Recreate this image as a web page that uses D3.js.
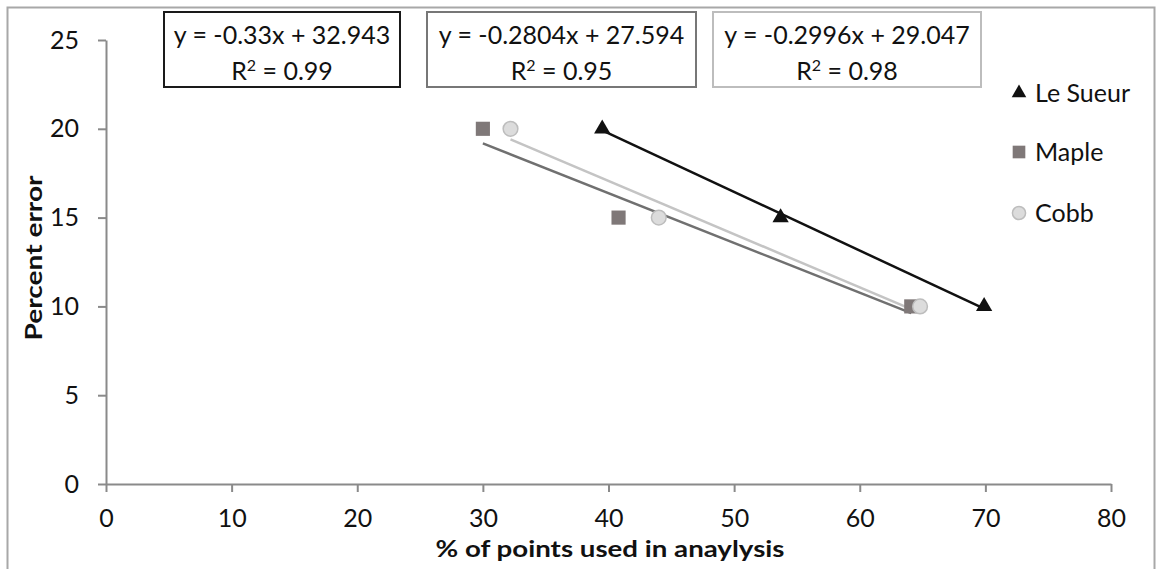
<!DOCTYPE html>
<html>
<head>
<meta charset="utf-8">
<script src="https://cdn.jsdelivr.net/npm/d3@7"></script>
<style>
  body { margin: 0; background: #fff; }
  text { font-family: Lato, "Open Sans", sans-serif; fill: #111; }
</style>
</head>
<body>
<div id="chart"></div>
<script>
// Series data
const leSueurX = [39.5, 53.7, 69.9];
const leSueurY = [20, 15, 10];
const mapleX = [30, 40.8, 64.1];
const mapleY = [20, 15, 10];
const cobbX = [32.2, 44, 64.8];
const cobbY = [20, 15, 10];

// Trendline coefficients and labels
const slopes = [-0.33, -0.2804, -0.2996];
const intercepts = [32.943, 27.594, 29.047];
const eqLabels = ["y = -0.33x + 32.943", "y = -0.2804x + 27.594", "y = -0.2996x + 29.047"];
const r2Labels = ["0.99", "0.95", "0.98"];
const seriesNames = ["Le Sueur", "Maple", "Cobb"];

const xTicks = [0, 10, 20, 30, 40, 50, 60, 70, 80];
const yTicks = [0, 5, 10, 15, 20, 25];

const width = 1156, height = 569;

const svg = d3.select("#chart").append("svg")
    .attr("width", width)
    .attr("height", height);

// outer frame
svg.append("rect")
    .attr("x", 7.5).attr("y", 7.5)
    .attr("width", 1147).attr("height", 580)
    .attr("fill", "none")
    .attr("stroke", "#a8a8a8")
    .attr("stroke-width", 2);

const x = d3.scaleLinear().domain([0, 80]).range([106, 1111]);
const y = d3.scaleLinear().domain([0, 25]).range([484, 40]);

const axisColor = "#8a8a8a";

// x axis
const gx = svg.append("g")
    .attr("transform", `translate(0,${y(0)})`)
    .call(d3.axisBottom(x).tickValues(xTicks).tickSize(8).tickPadding(17).tickSizeOuter(0));
// y axis
const gy = svg.append("g")
    .attr("transform", `translate(${x(0)},0)`)
    .call(d3.axisLeft(y).tickValues(yTicks).tickSize(8).tickPadding(19).tickSizeOuter(0));

[gx, gy].forEach(g => {
    g.select(".domain").attr("stroke", axisColor).attr("stroke-width", 2);
    g.selectAll(".tick line").attr("stroke", axisColor).attr("stroke-width", 2);
    g.selectAll(".tick text")
        .attr("font-size", "25px")
        .attr("font-family", "Lato, sans-serif")
        .attr("fill", "#111");
});

// axis titles
svg.append("text")
    .attr("x", 610).attr("y", 557)
    .attr("text-anchor", "middle")
    .attr("font-size", "23px")
    .attr("font-weight", "bold")
    .attr("textLength", 349)
    .attr("lengthAdjust", "spacingAndGlyphs")
    .text("% of points used in anaylysis");

svg.append("text")
    .attr("transform", "translate(42,258) rotate(-90)")
    .attr("text-anchor", "middle")
    .attr("font-size", "23px")
    .attr("font-weight", "bold")
    .attr("textLength", 165)
    .attr("lengthAdjust", "spacingAndGlyphs")
    .text("Percent error");

const series = [
    { xs: leSueurX, ys: leSueurY, line: "#111111", fill: "#111111", stroke: "none", shape: d3.symbolTriangle, size: 115 },
    { xs: mapleX, ys: mapleY, line: "#707070", fill: "#7f7878", stroke: "none", shape: d3.symbolSquare, size: 200 },
    { xs: cobbX, ys: cobbY, line: "#c4c4c4", fill: "#dcdcdc", stroke: "#bdbdbd", shape: d3.symbolCircle, size: 170 }
];

// trendlines (drawn under markers)
series.forEach((s, i) => {
    const x0 = d3.min(s.xs), x1 = d3.max(s.xs);
    svg.append("line")
        .attr("x1", x(x0)).attr("y1", y(slopes[i] * x0 + intercepts[i]))
        .attr("x2", x(x1)).attr("y2", y(slopes[i] * x1 + intercepts[i]))
        .attr("stroke", s.line)
        .attr("stroke-width", 2.5);
});

// markers
series.forEach(s => {
    svg.append("g").selectAll("path")
        .data(s.xs.map((v, j) => [v, s.ys[j]]))
        .enter()
        .append("path")
        .attr("d", d3.symbol().type(s.shape).size(s.size))
        .attr("transform", d => `translate(${x(d[0])},${y(d[1])})`)
        .attr("fill", s.fill)
        .attr("stroke", s.stroke)
        .attr("stroke-width", 1.5);
});

// equation boxes
const boxes = [
    { x: 164, w: 236, stroke: "#1a1a1a" },
    { x: 427, w: 269, stroke: "#777777" },
    { x: 713, w: 268, stroke: "#bdbdbd" }
];
boxes.forEach((b, i) => {
    svg.append("rect")
        .attr("x", b.x).attr("y", 12)
        .attr("width", b.w).attr("height", 75)
        .attr("fill", "#fff")
        .attr("stroke", b.stroke)
        .attr("stroke-width", 2);
    svg.append("text")
        .attr("x", b.x + b.w / 2).attr("y", 44)
        .attr("text-anchor", "middle")
        .attr("font-size", "25px")
        .text(eqLabels[i]);
    const t = svg.append("text")
        .attr("x", b.x + b.w / 2).attr("y", 80)
        .attr("text-anchor", "middle")
        .attr("font-size", "25px");
    t.append("tspan").text("R");
    t.append("tspan").attr("dy", -9).attr("font-size", "16px").text("2");
    t.append("tspan").attr("dy", 9).text(" = " + r2Labels[i]);
});

// legend
const legendY = [93, 152, 213];
series.forEach((s, i) => {
    svg.append("path")
        .attr("d", d3.symbol().type(s.shape).size(s.size * 0.8))
        .attr("transform", `translate(1019,${legendY[i]})`)
        .attr("fill", s.fill)
        .attr("stroke", s.stroke)
        .attr("stroke-width", 1.5);
    svg.append("text")
        .attr("x", 1035).attr("y", legendY[i] + 9)
        .attr("font-size", "25px")
        .text(seriesNames[i]);
});
</script>
</body>
</html>
